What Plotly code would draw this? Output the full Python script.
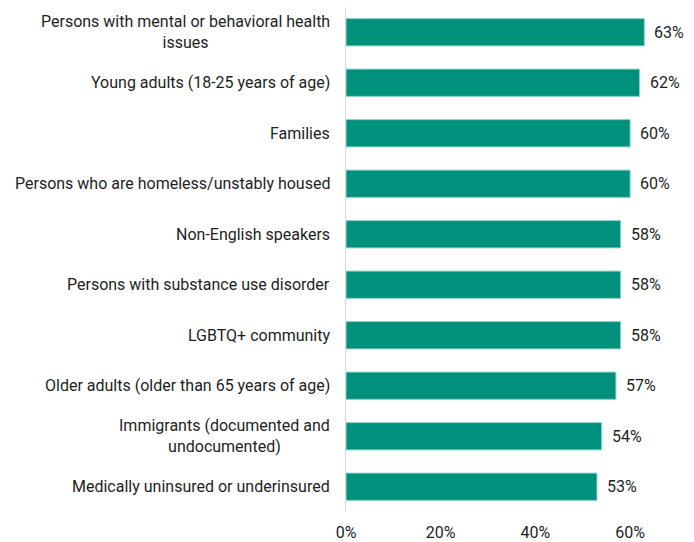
import plotly.graph_objects as go

categories = [
    "Persons with mental or behavioral health<br>issues",
    "Young adults (18-25 years of age)",
    "Families",
    "Persons who are homeless/unstably housed",
    "Non-English speakers",
    "Persons with substance use disorder",
    "LGBTQ+ community",
    "Older adults (older than 65 years of age)",
    "Immigrants (documented and<br>undocumented)",
    "Medically uninsured or underinsured",
]
values = [63, 62, 60, 60, 58, 58, 58, 57, 54, 53]
tick_vals = [0, 20, 40, 60]
tick_text = ["0%", "20%", "40%", "60%"]

BAR = "#00917C"
FONT = "Roboto"
INK = "#1e1e1e"
SIZE = 16

fig = go.Figure(
    go.Bar(
        x=values,
        y=categories,
        orientation="h",
        marker=dict(color=BAR, line=dict(color="#8fd3c8", width=1)),
        hoverinfo="skip",
    )
)

# value labels just past each bar end
for c, v in zip(categories, values):
    fig.add_annotation(
        x=v, y=c, xref="x", yref="y",
        text=f"{v}%", showarrow=False,
        xanchor="left", xshift=8,
        font=dict(family=FONT, size=SIZE, color=INK),
    )

# category labels, centred when wrapped onto two lines
for c in categories:
    fig.add_annotation(
        x=0, y=c, xref="paper", yref="y",
        text=c, showarrow=False,
        xanchor="right", align="center", xshift=-14,
        font=dict(family=FONT, size=SIZE, color=INK),
    )

fig.update_layout(
    width=694, height=542,
    margin=dict(l=346, r=26, t=7, b=30),
    paper_bgcolor="white", plot_bgcolor="white",
    bargap=0.46,
    showlegend=False,
    font=dict(family=FONT, size=SIZE, color=INK),
    xaxis=dict(
        range=[0, 68],
        tickvals=tick_vals, ticktext=tick_text,
        showgrid=False, zeroline=False,
        showline=False, ticks="",
        ticklabelstandoff=9,
        automargin=False,
        tickfont=dict(family=FONT, size=SIZE, color=INK),
    ),
    yaxis=dict(
        categoryorder="array", categoryarray=categories,
        autorange="reversed",
        showticklabels=False, showgrid=False, zeroline=False,
        showline=True, linecolor="#d9d9d9", linewidth=1, ticks="",
        automargin=False,
    ),
)

fig.write_html("out.html")
